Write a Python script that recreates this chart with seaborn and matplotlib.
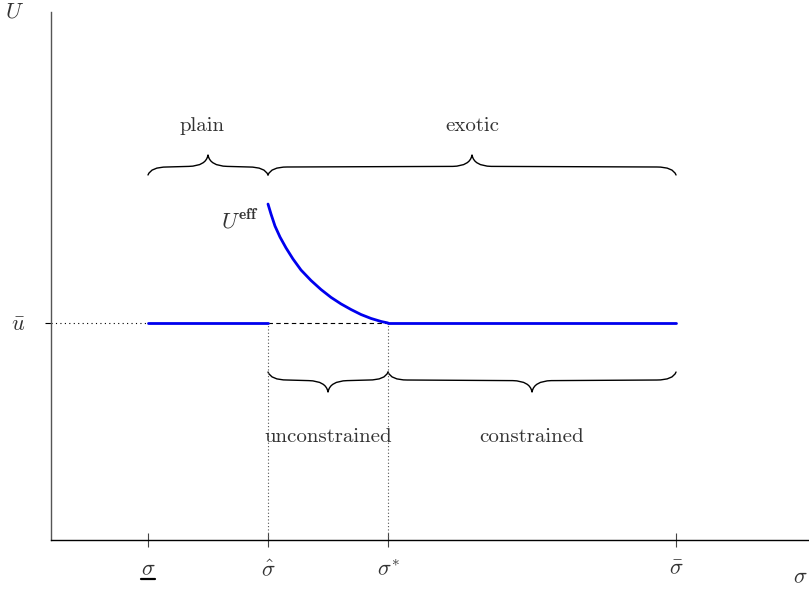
import numpy as np
import pandas as pd
import matplotlib
matplotlib.use("Agg")
import matplotlib.pyplot as plt
from matplotlib.path import Path
from matplotlib.patches import PathPatch
import seaborn as sns

# sigma thresholds (ticks on the horizontal axis)
sigma_vals = [1.0, 2.0, 3.0, 5.4]
sigma_labels = [r"$\sigma$", r"$\hat{\sigma}$", r"$\sigma^{*}$", r"$\bar{\sigma}$"]
u_bar = 1.0

# effective utility curve (sigma_hat -> sigma_star)
curve_x = [2.000, 2.025, 2.058, 2.100, 2.150, 2.208, 2.275, 2.358, 2.442,
           2.525, 2.608, 2.692, 2.775, 2.858, 2.942, 3.000]
curve_y = [1.548, 1.502, 1.447, 1.396, 1.346, 1.295, 1.244, 1.196, 1.154,
           1.118, 1.088, 1.062, 1.039, 1.021, 1.007, 1.000]

# brace regions
top_spans = [(1.0, 2.0), (2.0, 5.4)]
top_labels = ["plain", "exotic"]
low_spans = [(2.0, 3.0), (3.0, 5.4)]
low_labels = ["unconstrained", "constrained"]

sns.set_style("white")
plt.rcParams["font.family"] = ["cmr10", "DejaVu Serif"]
plt.rcParams["mathtext.fontset"] = "cm"
plt.rcParams["axes.formatter.use_mathtext"] = True

fig = plt.figure(figsize=(8.09, 5.90), dpi=100)
ax = fig.add_axes([51 / 809, 50 / 590, 758 / 809, 528 / 590])
ax.set_xlim(0.1917, 6.508)
ax.set_ylim(0, 2.433)

txt = "#333333"
blue = "#0000ee"

# blue pieces of U_eff
flat = pd.DataFrame({"x": [sigma_vals[0], sigma_vals[1]], "y": [u_bar, u_bar]})
flat2 = pd.DataFrame({"x": [sigma_vals[2], sigma_vals[3]], "y": [u_bar, u_bar]})
curve = pd.DataFrame({"x": curve_x, "y": curve_y})
for d in (flat, curve, flat2):
    sns.lineplot(data=d, x="x", y="y", ax=ax, color=blue, lw=2.0, sort=False,
                 estimator=None, zorder=3)
for l in ax.lines:
    l.set_solid_joinstyle("round")

# dashed continuation of u_bar, dotted guides
ax.plot([sigma_vals[1], sigma_vals[2]], [u_bar, u_bar], color="black", lw=0.8,
        ls=(0, (4, 3)), zorder=2)
ax.plot([ax.get_xlim()[0], sigma_vals[0]], [u_bar, u_bar], color="black", lw=0.8,
        ls=(0, (1, 3)), zorder=2)
for s in sigma_vals[1:3]:
    ax.plot([s, s], [0, u_bar], color="#555555", lw=0.8, ls=(0, (1, 2)), zorder=2)


def brace(ax, x0, x1, y, h, up=True):
    # curly brace from x0 to x1, ends at y, tip at y +/- h
    sgn = 1 if up else -1
    xm = (x0 + x1) / 2
    r = min(0.16, (x1 - x0) / 6)
    yb = y + sgn * h * 0.4
    yt = y + sgn * h
    verts = [(x0, y), (x0 + 0.15 * r, yb), (x0 + r, yb),
             (xm - r, yb + sgn * h * 0.03), (xm - 0.1 * r, yb + sgn * h * 0.05), (xm, yt),
             (xm + 0.1 * r, yb + sgn * h * 0.05), (xm + r, yb + sgn * h * 0.03),
             (x1 - r, yb), (x1 - 0.15 * r, yb), (x1, y)]
    codes = [Path.MOVETO, Path.CURVE3, Path.CURVE3,
             Path.LINETO, Path.CURVE3, Path.CURVE3,
             Path.CURVE3, Path.CURVE3,
             Path.LINETO, Path.CURVE3, Path.CURVE3]
    ax.add_patch(PathPatch(Path(verts, codes), fill=False, lw=1.0, color="black",
                           capstyle="round", joinstyle="round"))


for (a, b), lab in zip(top_spans, top_labels):
    brace(ax, a, b, 1.682, 0.092, up=True)
    ax.text((a + b) / 2 - 0.05 * (b - a < 1.5), 1.908, lab, ha="center", va="center",
            fontsize=15, color=txt)
for (a, b), lab in zip(low_spans, low_labels):
    brace(ax, a, b, 0.774, 0.092, up=False)
    ax.text((a + b) / 2, 0.475, lab, ha="center", va="center", fontsize=15, color=txt)

ax.text(1.92, 1.47, r"$U^{\mathbf{eff}}$", ha="right", va="center", fontsize=16, color=txt)

# axes
sns.despine(ax=ax)
ax.spines["left"].set_color("#555555")
ax.spines["bottom"].set_color("black")
ax.spines["left"].set_linewidth(1.0)
ax.spines["bottom"].set_linewidth(1.0)
ax.set_xticks(sigma_vals)
ax.set_xticklabels(sigma_labels, fontsize=16, color=txt)
ax.set_yticks([u_bar])
ax.set_yticklabels([r"$\bar{u}$"], fontsize=16, color=txt)
ax.tick_params(axis="x", bottom=True, direction="inout", length=10, width=0.8,
               color="#444444", pad=9)
ax.tick_params(axis="y", left=True, direction="out", length=4.5, width=0.8,
               color="black", pad=14)
ax.set_xlabel("")
ax.set_ylabel("")

# underline for the lower sigma bound
ax.plot([sigma_vals[0] - 0.058, sigma_vals[0] + 0.058], [-0.0739, -0.0739],
        transform=ax.get_xaxis_transform(), color="black", lw=1.6, clip_on=False)

fig.text(15 / 809, 1 - 12 / 590, r"$U$", ha="center", va="center", fontsize=16, color=txt)
fig.text(800 / 809, 1 - 577 / 590, r"$\sigma$", ha="center", va="center", fontsize=16, color=txt)

fig.savefig("out.png", dpi=100)
